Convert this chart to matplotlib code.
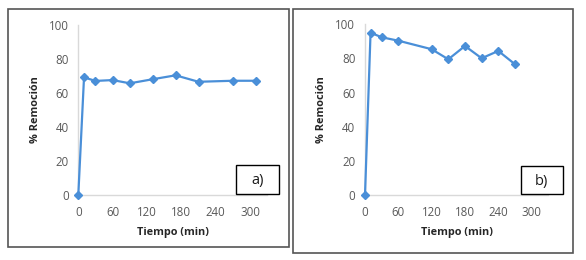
import matplotlib.pyplot as plt
from matplotlib.patches import Rectangle

# panel a)
time_a = [0, 10, 30, 60, 90, 130, 170, 210, 270, 310]
rem_a = [0, 69.2, 67.1, 67.6, 65.7, 68.1, 70.4, 66.6, 67.2, 67.2]

# panel b)
time_b = [0, 10, 30, 60, 120, 150, 180, 210, 240, 270]
rem_b = [0, 95.1, 92.4, 90.4, 85.4, 79.5, 87.3, 80.1, 84.4, 76.6]

xticks = [0, 60, 120, 180, 240, 300]
yticks = [0, 20, 40, 60, 80, 100]
tags = ['a)', 'b)']

W, H = 586, 260
plt.rcParams['font.family'] = ['Open Sans', 'DejaVu Sans']

fig = plt.figure(figsize=(W / 100, H / 100), dpi=100)


def fx(px):
    return px / W


def fy(py):
    return 1 - py / H


line_col = '#4A8FD8'
axis_col = '#D9D9D9'
tick_col = '#595959'

# outer panel frames
fig.patches.append(Rectangle((fx(8), fy(247)), fx(281), 238 / H, transform=fig.transFigure,
                             fill=False, edgecolor='#555555', lw=1.2))
fig.patches.append(Rectangle((fx(293), fy(252.5)), fx(280), 243.5 / H, transform=fig.transFigure,
                             fill=False, edgecolor='#555555', lw=1.2))

panels = [
    (time_a, rem_a, [fx(78.3), fy(195), fx(188.9), 170 / H], 172.7, (235.7, 165, 43, 29.3)),
    (time_b, rem_b, [fx(365), fy(195), fx(183.3), 170.7 / H], 456.7, (520.7, 166, 42.3, 28.3)),
]

for i, (t, r, pos, xlab_c, box) in enumerate(panels):
    ax = fig.add_axes(pos)
    ax.plot(t, r, color=line_col, lw=1.6, marker='D', markersize=3.6, clip_on=False, zorder=3)
    ax.set_xlim(0, 330)
    ax.set_ylim(0, 100)
    ax.set_xticks(xticks)
    ax.set_yticks(yticks)
    for s in ['top', 'right']:
        ax.spines[s].set_visible(False)
    for s in ['left', 'bottom']:
        ax.spines[s].set_color(axis_col)
        ax.spines[s].set_linewidth(1.0)
    ax.tick_params(length=0, labelsize=8.3, labelcolor=tick_col)
    ax.tick_params(axis='x', pad=8)
    ax.tick_params(axis='y', pad=7)
    ax.patch.set_alpha(0)

    fig.text(fx(xlab_c), fy(232.5), 'Tiempo (min)', ha='center', va='center',
             fontsize=7.8, fontweight='bold', color='#262626')
    fig.text(fx(35 + 287 * i), fy(110), '% Remoción', ha='center', va='center',
             rotation=90, fontsize=7.8, fontweight='bold', color='#262626')

    bx, by, bw, bh = box
    fig.patches.append(Rectangle((fx(bx), fy(by + bh)), fx(bw), bh / H, transform=fig.transFigure,
                                 facecolor='white', edgecolor='black', lw=1.0, zorder=5))
    fig.text(fx(bx + bw / 2), fy(by + bh / 2 + 1), tags[i], ha='center', va='center',
             fontsize=10.5, color='#1a1a1a', zorder=6)

fig.savefig('out.png', dpi=100)
